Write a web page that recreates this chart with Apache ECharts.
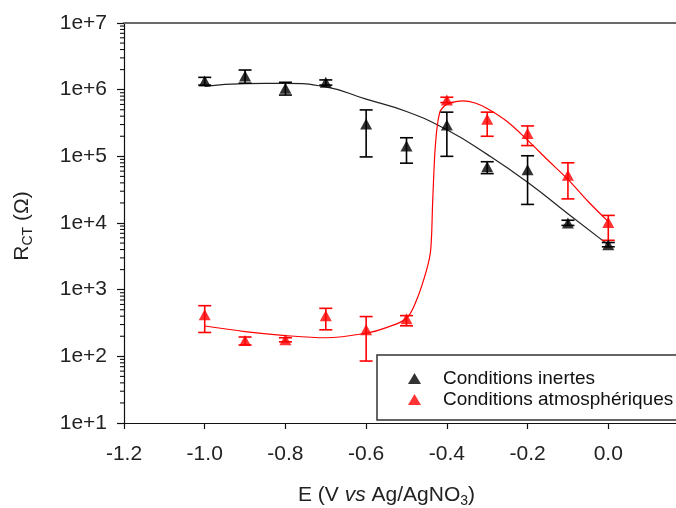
<!DOCTYPE html>
<html>
<head>
<meta charset="utf-8">
<script src="https://cdn.jsdelivr.net/npm/echarts@6/dist/echarts.min.js"></script>
<style>html,body{margin:0;padding:0;background:#fff;overflow:hidden;}#c{width:700px;height:508px;}</style>
</head>
<body>
<div id="c"></div>
<script>
// ---- data ----
var potentials = [-1.0, -0.9, -0.8, -0.7, -0.6, -0.5, -0.4, -0.3, -0.2, -0.1, 0.0];
var inertR    = [1.35e6, 1.6e6, 1.05e6, 1.29e6, 3.06e5, 1.43e5, 2.95e5, 7.0e4, 6.3e4, 1.0e4, 4.7e3];
var inertHigh = [1.53e6, 1.97e6, 1.29e6, 1.4e6, 4.97e5, 1.9e5, 4.6e5, 8.3e4, 1.02e5, 1.1e4, 5.1e3];
var inertLow  = [1.17e6, 1.25e6, 8.3e5, 1.17e6, 9.8e4, 7.9e4, 1.0e5, 5.5e4, 1.9e4, 9.2e3, 4.4e3];
var atmR      = [419, 173, 177, 405, 250, 365, 7.0e5, 3.6e5, 2.2e5, 5.2e4, 1.02e4];
var atmHigh   = [575, 195, 190, 525, 395, 408, 7.7e5, 4.6e5, 2.86e5, 8.0e4, 1.3e4];
var atmLow    = [228, 148, 165, 250, 85, 287, 6.4e5, 2.0e5, 1.45e5, 2.3e4, 5.5e3];

var inertFitE = [-1.0, -0.9, -0.8, -0.7, -0.6, -0.5, -0.4, -0.3, -0.2, -0.1, 0.0];
var inertFitR = [1.12e6, 1.23e6, 1.24e6, 1.1e6, 7.2e5, 4.7e5, 2.5e5, 1.07e5, 4.1e4, 1.38e4, 4.7e3];
var atmFitE = [-1.0, -0.9, -0.8, -0.7, -0.6, -0.55, -0.5, -0.475, -0.45, -0.44, -0.435, -0.428, -0.418, -0.405, -0.39, -0.36, -0.33, -0.3, -0.25, -0.2, -0.15, -0.1, -0.05, 0.0];
var atmFitR = [285, 235, 205, 190, 222, 270, 373, 700, 2000, 4000, 2.2e4, 1.6e5, 4.5e5, 5.8e5, 6.4e5, 6.8e5, 6.3e5, 5.2e5, 3.3e5, 1.75e5, 8.8e4, 4.5e4, 2.1e4, 1.05e4];

var xTicksMin = -1.2, xTicksMax = 0.2, xStep = 0.2;
var yMin = 10, yMax = 1e7;
var minorMultipliers = [2, 3, 4, 5, 6, 7, 8, 9];

function zip2(a, b) { return a.map(function (v, i) { return [v, b[i]]; }); }
function zip3(a, b, c) { return a.map(function (v, i) { return [v, b[i], c[i]]; }); }

var minorTickVals = [];
for (var d = yMin; d < yMax; d *= 10) {
  minorMultipliers.forEach(function (m) { minorTickVals.push([xTicksMin, m * d]); });
}

var FONT = 'Liberation Sans, Arial, Helvetica, sans-serif';

function errRender(color) {
  return function (params, api) {
    var x = api.value(0);
    var lo = api.coord([x, api.value(1)]);
    var hi = api.coord([x, api.value(2)]);
    var hw = 6.5;
    var st = { stroke: color, lineWidth: 1.6 };
    return {
      type: 'group',
      children: [
        { type: 'line', shape: { x1: lo[0], y1: lo[1], x2: hi[0], y2: hi[1] }, style: st },
        { type: 'line', shape: { x1: lo[0] - hw, y1: lo[1], x2: lo[0] + hw, y2: lo[1] }, style: st },
        { type: 'line', shape: { x1: hi[0] - hw, y1: hi[1], x2: hi[0] + hw, y2: hi[1] }, style: st }
      ]
    };
  };
}

var chart = echarts.init(document.getElementById('c'), null, { renderer: 'canvas' });
chart.setOption({
  animation: false,
  backgroundColor: '#fff',
  grid: { left: 124, right: 11, top: 23, bottom: 85, containLabel: false },
  xAxis: [{
    type: 'value', min: xTicksMin, max: xTicksMax, interval: xStep,
    axisLine: { show: true, onZero: false, lineStyle: { color: '#111', width: 1.2 } },
    axisTick: { show: true, length: 6, lineStyle: { color: '#111', width: 1.2 } },
    axisLabel: { fontSize: 21, color: '#222', fontFamily: FONT, margin: 21, showMaxLabel: false,
      formatter: function (v) { return v.toFixed(1); } },
    splitLine: { show: false }
  }, {
    type: 'value', position: 'top', min: xTicksMin, max: xTicksMax,
    axisLine: { show: true, onZero: false, lineStyle: { color: '#6a6a6a', width: 2 } },
    axisTick: { show: false }, axisLabel: { show: false }, splitLine: { show: false }
  }],
  yAxis: {
    type: 'log', logBase: 10, min: yMin, max: yMax,
    axisLine: { show: true, onZero: false, lineStyle: { color: '#111', width: 1.2 } },
    axisTick: { show: true, length: 7, lineStyle: { color: '#111', width: 1.2 } },
    axisLabel: { fontSize: 21, color: '#222', fontFamily: FONT, margin: 17,
      formatter: function (v) { return '1e+' + Math.round(Math.log10(v)); } },
    splitLine: { show: false }
  },
  legend: {
    orient: 'vertical', left: 403, top: 364,
    data: ['Conditions inertes', 'Conditions atmosphériques'],
    icon: 'triangle', itemWidth: 13, itemHeight: 11, itemGap: 2,
    textStyle: { fontSize: 19, color: '#111', fontFamily: FONT, lineHeight: 19, padding: [0, 0, 0, 17] },
    selectedMode: false
  },
  graphic: [
    { type: 'rect', z: 3, shape: { x: 377, y: 355, width: 330, height: 65 },
      style: { fill: '#fff', stroke: '#333', lineWidth: 1.5 } },
    { type: 'text', x: 298, y: 495, z: 5,
      style: { text: '{n|E (V }{i|vs}{n| Ag/AgNO}{s|3}{n|)}', align: 'left', verticalAlign: 'middle',
        rich: {
          n: { fontSize: 21, fontFamily: FONT, fill: '#222', lineHeight: 26 },
          i: { fontSize: 21, fontFamily: FONT, fontStyle: 'italic', fill: '#222', lineHeight: 26 },
          s: { fontSize: 14, fontFamily: FONT, fill: '#222', lineHeight: 14, verticalAlign: 'bottom' }
        } } },
    { type: 'text', x: 22, y: 226, rotation: Math.PI / 2, z: 5,
      style: { text: '{n|R}{s|CT}{n| (Ω)}', align: 'center', verticalAlign: 'middle',
        rich: {
          n: { fontSize: 21, fontFamily: FONT, fill: '#222', lineHeight: 26 },
          s: { fontSize: 14, fontFamily: FONT, fill: '#222', lineHeight: 14, verticalAlign: 'bottom' }
        } } }
  ],
  series: [
    { name: 'minorTicks', type: 'custom', data: minorTickVals, clip: false, silent: true,
      renderItem: function (params, api) {
        var p = api.coord([api.value(0), api.value(1)]);
        return { type: 'line', shape: { x1: p[0] - 4, y1: p[1], x2: p[0], y2: p[1] },
          style: { stroke: '#111', lineWidth: 1.1 } };
      } },
    { name: 'fitInert', type: 'line', data: zip2(inertFitE, inertFitR), showSymbol: false, symbol: 'none',
      smooth: 0.5, lineStyle: { color: '#222', width: 1.2 }, z: 2, silent: true },
    { name: 'fitAtm', type: 'line', data: zip2(atmFitE, atmFitR), showSymbol: false, symbol: 'none',
      smooth: 0.35, lineStyle: { color: '#ff0000', width: 1.2 }, z: 2, silent: true },
    { name: 'errInert', type: 'custom', data: zip3(potentials, inertLow, inertHigh), renderItem: errRender('#000'), z: 3, silent: true },
    { name: 'errAtm', type: 'custom', data: zip3(potentials, atmLow, atmHigh), renderItem: errRender('#ff0000'), z: 3, silent: true },
    { name: 'Conditions inertes', type: 'scatter', data: zip2(potentials, inertR), symbol: 'triangle',
      symbolSize: [12, 11], itemStyle: { color: '#000' }, z: 4 },
    { name: 'Conditions atmosphériques', type: 'scatter', data: zip2(potentials, atmR), symbol: 'triangle',
      symbolSize: [12, 11], itemStyle: { color: '#ff0000' }, z: 4 }
  ]
});
</script>
</body>
</html>
